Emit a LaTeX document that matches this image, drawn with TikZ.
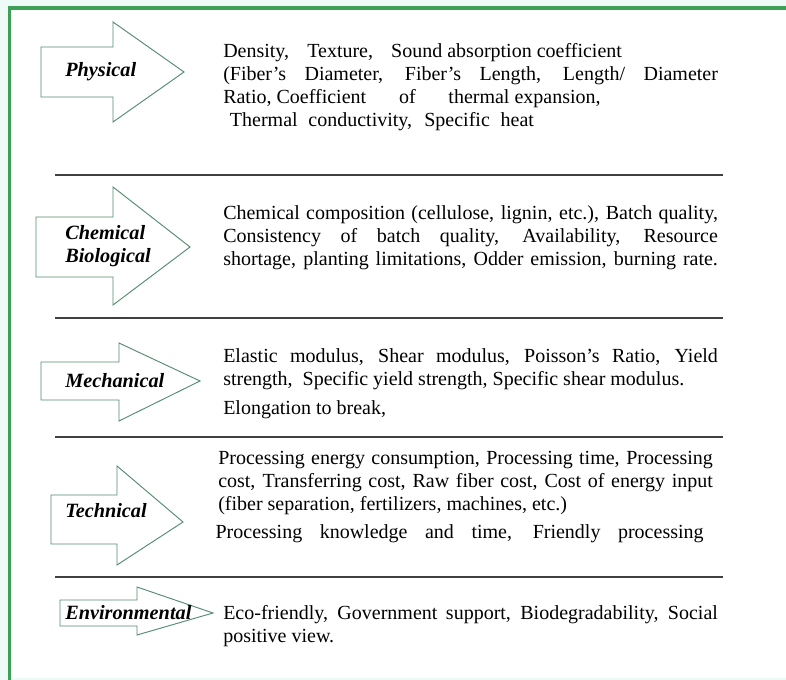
\documentclass[tikz,border=0pt]{standalone}
\usepackage{fontspec}
\setmainfont{Liberation Serif}
\usepackage{tikz}
\usetikzlibrary{calc}

\definecolor{framegreen}{RGB}{62,160,88}
\definecolor{arrowgreen}{RGB}{84,140,112}
\definecolor{paleback}{RGB}{238,250,246}

\begin{document}
\begin{tikzpicture}[x=0.75pt,y=-0.75pt]
\tikzstyle{arrowbox}=[draw=arrowgreen,line width=0.7pt,fill=white,line join=miter]
\tikzstyle{catlabel}=[anchor=west,inner sep=0pt,align=left,font=\fontsize{15.2}{17}\selectfont\bfseries\itshape]
\tikzstyle{itemtext}=[anchor=north west,inner sep=0pt,text width=371pt,align=justify,font=\fontsize{15}{17.2}\selectfont]
\tikzstyle{sepline}=[draw=black!75,line width=1.1pt]
\tikzstyle{frameline}=[draw=framegreen,line width=2.3pt]
\useasboundingbox (0,0) rectangle (786,680);
\fill[paleback] (0,0) rectangle (786,680);
\fill[white] (10,9) rectangle (786,678);
\draw[frameline] (9.5,680) -- (9.5,8) -- (786,8);
% arrows
\draw[arrowbox] (41,47) -- (113,47) -- (113,22) -- (184,72) -- (113,122) -- (113,97) -- (41,97) -- cycle;
\draw[arrowbox] (36,217) -- (113,217) -- (113,187) -- (190,247) -- (113,305) -- (113,277) -- (36,277) -- cycle;
\draw[arrowbox] (41,362) -- (119,362) -- (119,343) -- (200,381) -- (119,421) -- (119,400) -- (41,400) -- cycle;
\draw[arrowbox] (51,495) -- (117,495) -- (117,466) -- (183,522) -- (117,565) -- (117,544) -- (51,544) -- cycle;
\draw[arrowbox] (60,600) -- (137,600) -- (137,587) -- (213,613) -- (137,635) -- (137,626) -- (60,626) -- cycle;
\node[catlabel] (phys) at (65,72) {Physical};
\node[catlabel] (chem) at (65,246) {Chemical\\Biological};
\node[catlabel] (mech) at (65,381) {Mechanical};
\node[catlabel] (tech) at (65,511) {Technical};
\node[catlabel] (envi) at (65,613) {Environmental};
% separators
\draw[sepline] (55,175) -- (723,175);
\draw[sepline] (55,318) -- (723,318);
\draw[sepline] (55,437) -- (723,437);
\draw[sepline] (55,577) -- (723,577);
% item lists
\node[itemtext] (physitems) at (223,43) {\makebox[299pt][l]{Density,\hfill Texture,\hfill Sound absorption coefficient}\\
(Fiber’s Diameter, Fiber’s Length, Length/ Diameter\linebreak
\makebox[283pt][l]{Ratio, Coefficient\hfill of\hfill thermal expansion,}\\
\hspace*{5pt}\makebox[228pt][s]{Thermal conductivity, Specific heat}};
\node[itemtext] (chemitems) at (223,205) {Chemical composition (cellulose, lignin, etc.), Batch quality,\linebreak
Consistency of batch quality, Availability, Resource\linebreak
\makebox[371pt][s]{shortage, planting limitations, Odder emission, burning rate.}};
\node[itemtext] (mechitems) at (223,348.5) {Elastic modulus, Shear modulus, Poisson’s Ratio, Yield\linebreak
strength,\ \ Specific yield strength, Specific shear modulus.\\[4.5pt]
Elongation to break,};
\node[itemtext] (techitems) at (218,451) {Processing energy consumption, Processing time, Processing\linebreak
cost, Transferring cost, Raw fiber cost, Cost of energy input\linebreak
(fiber separation, fertilizers, machines, etc.)\\[4pt]
\hspace*{-2pt}\makebox[366pt][s]{Processing knowledge and time, Friendly processing}};
\node[itemtext] (enviitems) at (223,605.5) {Eco-friendly, Government support, Biodegradability, Social\linebreak
positive view.};
\end{tikzpicture}
\end{document}
